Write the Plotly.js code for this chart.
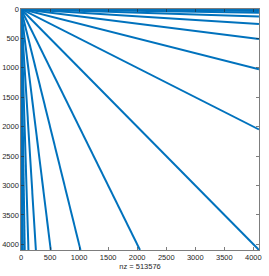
<!DOCTYPE html>
<html>
<head>
<meta charset="utf-8">
<script src="https://cdn.plot.ly/plotly-3.0.1.min.js"></script>
<style>html,body{margin:0;padding:0;background:#fff;}#chart{width:269px;height:276px;}</style>
</head>
<body>
<div id="chart"></div>
<script>
// Matrix size and nonzero count
const n = 4096;
const nzCount = 513576;
// Row index reached at the last column by each line through the origin
const rightEndRows = [4096, 2048, 1024, 512, 256, 128, 64, 32, 16, 8, 4, 2, 1];
// Column index reached at the last row by each steep line through the origin
const bottomEndCols = [2048, 1024, 512, 256, 128, 64, 32, 16, 8, 4, 2, 1];
const tickValues = [0, 500, 1000, 1500, 2000, 2500, 3000, 3500, 4000];

const blue = '#0072BD';
const traces = [];
rightEndRows.forEach(r => {
  traces.push({x: [0, n], y: [0, r], type: 'scatter', mode: 'lines',
    line: {color: blue, width: 2}, hoverinfo: 'none', showlegend: false});
});
bottomEndCols.forEach(c => {
  traces.push({x: [0, c], y: [0, n], type: 'scatter', mode: 'lines',
    line: {color: blue, width: 2}, hoverinfo: 'none', showlegend: false});
});

const axisCommon = {
  tickvals: tickValues,
  ticktext: tickValues.map(String),
  ticks: 'inside', ticklen: 3, tickwidth: 0.6, tickcolor: '#262626',
  showline: true, linecolor: '#262626', linewidth: 0.6, mirror: 'ticks',
  showgrid: false, zeroline: false,
  tickfont: {family: 'Liberation Sans, Arial, sans-serif', size: 7.5, color: '#262626'}
};

const layout = {
  width: 269, height: 276,
  margin: {l: 21, r: 7, t: 9, b: 26},
  paper_bgcolor: '#fff', plot_bgcolor: '#fff',
  xaxis: Object.assign({}, axisCommon, {
    range: [0, n + 1],
    automargin: true,
    title: {text: 'nz = ' + nzCount, font: {family: 'Liberation Sans, Arial, sans-serif', size: 7.5, color: '#262626'}, standoff: 0}
  }),
  yaxis: Object.assign({}, axisCommon, {
    range: [n + 1, 0]
  })
};

Plotly.newPlot('chart', traces, layout, {staticPlot: true, displayModeBar: false});
</script>
</body>
</html>
